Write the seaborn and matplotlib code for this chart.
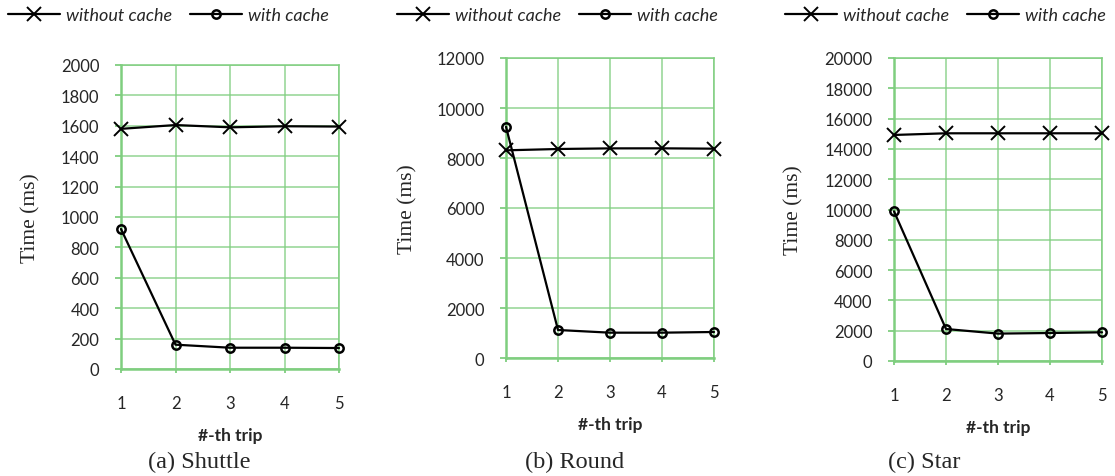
import numpy as np
import pandas as pd
import matplotlib
matplotlib.use("Agg")
import matplotlib.pyplot as plt
import seaborn as sns

# data
trips = [1, 2, 3, 4, 5]
panels = ["(a) Shuttle", "(b) Round", "(c) Star"]
shuttle_without = [1580, 1605, 1590, 1597, 1595]
shuttle_with = [921, 160, 140, 140, 138]
round_without = [8307, 8360, 8385, 8387, 8373]
round_with = [9250, 1120, 1013, 1013, 1040]
star_without = [14920, 15030, 15030, 15030, 15030]
star_with = [9880, 2112, 1808, 1848, 1894]
ymax = [2000, 12000, 20000]
ystep = [200, 2000, 2000]

sns.set_style("white")
plt.rcParams["font.family"] = ["Lato", "DejaVu Sans"]

GREEN = "#7fce7f"
W, H = 1115, 477
fig = plt.figure(figsize=(W / 100, H / 100), dpi=100)

# axes boxes in pixels: left, top, right, bottom
boxes = [(121, 66, 339, 370), (506, 59, 714, 359), (894, 59, 1102, 362)]
ylab_x = [40, 417, 803]
cap_x = [199, 575, 924]
leg_x = [8, 397, 785]

series = [(shuttle_without, shuttle_with), (round_without, round_with), (star_without, star_with)]

for i, (wo, wi) in enumerate(series):
    l, t, r, b = boxes[i]
    ax = fig.add_axes([l / W, 1 - b / H, (r - l) / W, (b - t) / H])
    df = pd.DataFrame({"trip": trips * 2,
                       "time": wo + wi,
                       "kind": ["without cache"] * 5 + ["with cache"] * 5})
    sns.lineplot(data=df[df.kind == "without cache"], x="trip", y="time", ax=ax,
                 color="black", lw=1.6, marker="x", markersize=10, mew=1.4,
                 mec="black", label="without cache", zorder=3, clip_on=False)
    sns.lineplot(data=df[df.kind == "with cache"], x="trip", y="time", ax=ax,
                 color="black", lw=1.6, marker="o", markersize=6, mew=1.8,
                 mfc="none", mec="black", label="with cache", zorder=4, clip_on=False)

    ax.set_xlim(1, 5)
    ax.set_ylim(0, ymax[i])
    ax.set_xticks(trips)
    ax.set_yticks(np.arange(0, ymax[i] + 1, ystep[i]))
    ax.grid(True, color=GREEN, lw=1.1, alpha=0.85)
    for s in ["top", "right"]:
        ax.spines[s].set_color(GREEN)
        ax.spines[s].set_linewidth(1.1)
    for s in ["left", "bottom"]:
        ax.spines[s].set_color(GREEN)
        ax.spines[s].set_linewidth(1.8)
    ax.tick_params(axis="y", direction="out", length=4.5, width=1.3, color=GREEN,
                   pad=11, labelsize=12, left=True)
    ax.tick_params(axis="x", direction="out", length=3, width=1.3, color=GREEN,
                   pad=16, labelsize=12, bottom=True)

    ax.set_xlabel("#-th trip", fontweight="bold", fontsize=12.5, labelpad=11)
    ax.set_ylabel("Time (ms)", family="Liberation Serif", fontsize=15.5)
    ax.yaxis.set_label_coords((ylab_x[i] - l) / (r - l), 0.5)

    ax.legend(loc="center left", bbox_to_anchor=(leg_x[i] / W, 1 - 16 / H),
              bbox_transform=fig.transFigure, ncol=2, frameon=False,
              borderpad=0, borderaxespad=0, handlelength=2.9, handletextpad=0.3,
              columnspacing=1.0, prop={"family": "Lato", "style": "italic", "size": 13})

    fig.text(cap_x[i] / W, 1 - 462 / H, panels[i], family="Liberation Serif",
             fontsize=17.5, ha="center", va="center")

fig.savefig("out.png", dpi=100)
